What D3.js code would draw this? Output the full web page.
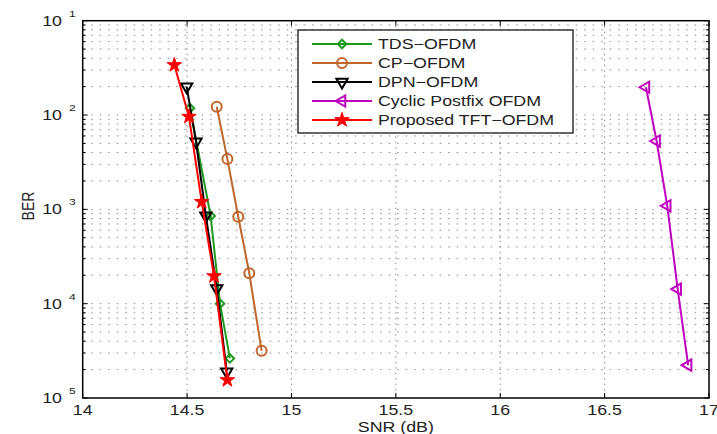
<!DOCTYPE html>
<html><head><meta charset="utf-8">
<script src="https://cdn.jsdelivr.net/npm/d3@7"></script>
<style>html,body{margin:0;padding:0;background:#fff;}svg{display:block;font-family:"Liberation Sans",Arial,sans-serif;}</style>
</head><body><svg id="c" width="717" height="434"></svg>
<script>
// ---- data ----
const seriesNames = ["TDS\u2212OFDM","CP\u2212OFDM","DPN\u2212OFDM","Cyclic Postfix OFDM","Proposed TFT\u2212OFDM"];
const tdsSNR = [14.514,14.613,14.658,14.705];
const tdsBER = [0.0118,8.5e-4,1.0e-4,2.63e-5];
const cpSNR = [14.642,14.693,14.745,14.798,14.857];
const cpBER = [0.01225,3.41e-3,8.35e-4,2.1e-4,3.16e-5];
const dpnSNR = [14.498,14.543,14.590,14.642,14.690];
const dpnBER = [0.020,5.2e-3,8.55e-4,1.45e-4,1.9e-5];
const cycSNR = [16.698,16.749,16.800,16.850,16.900];
const cycBER = [0.0197,5.3e-3,1.09e-3,1.43e-4,2.23e-5];
const tftSNR = [14.439,14.509,14.570,14.629,14.693];
const tftBER = [0.0339,0.0096,0.0012,1.96e-4,1.55e-5];
const xTicks = [14,14.5,15,15.5,16,16.5,17];
const xTickLabels = ["14","14.5","15","15.5","16","16.5","17"];
const yTicks = [1e-1,1e-2,1e-3,1e-4,1e-5];
const yTickSup = ["1","2","3","4","5"];
const xLabel = "SNR (dB)";
const yLabel = "BER";

const colors = ["#1f9a1f","#c0662a","#000000","#bf00bf","#ff0000"];
const markers = ["diamond","circle","tridown","trileft","star"];
const data = [
  {x:tdsSNR,y:tdsBER},{x:cpSNR,y:cpBER},{x:dpnSNR,y:dpnBER},{x:cycSNR,y:cycBER},{x:tftSNR,y:tftBER}
];

const L=82.7,R=709,T=20.7,B=398;
const SX=1.27; // horizontal stretch of the reference text
const x = d3.scaleLinear().domain([14,17]).range([L,R]);
const y = d3.scaleLog().domain([1e-1,1e-5]).range([T,B]);
const svg = d3.select("#c");

function addText(parent, tx, ty, str, size, anchor, extra){
  return parent.append("text")
    .attr("transform",`translate(${tx},${ty}) ${extra||""} scale(${SX},1)`)
    .attr("text-anchor",anchor).attr("font-size",size).attr("fill","#222").text(str);
}

// grid
const g = svg.append("g");
const minorY = [];
for (let e=-5;e<-1;e++) for (let k=1;k<10;k++) minorY.push(k*Math.pow(10,e));
minorY.push(1e-1);
g.selectAll("line.hg").data(minorY.filter(v=>v>1e-5 && v<1e-1)).enter().append("line")
  .attr("x1",L).attr("x2",R).attr("y1",d=>y(d)).attr("y2",d=>y(d))
  .attr("stroke","#8a8a8a").attr("stroke-width",1).attr("stroke-dasharray","1.5,7");
g.selectAll("line.vg").data(xTicks.slice(1,-1)).enter().append("line")
  .attr("y1",T).attr("y2",B).attr("x1",d=>x(d)).attr("x2",d=>x(d))
  .attr("stroke","#8a8a8a").attr("stroke-width",1).attr("stroke-dasharray","1.5,4");

// ticks
const tk = svg.append("g").attr("stroke","#000").attr("stroke-width",1);
xTicks.forEach(v=>{
  tk.append("line").attr("x1",x(v)).attr("x2",x(v)).attr("y1",B).attr("y2",B-5);
  tk.append("line").attr("x1",x(v)).attr("x2",x(v)).attr("y1",T).attr("y2",T+5);
});
minorY.forEach(v=>{
  const len = yTicks.includes(v)?5:3;
  tk.append("line").attr("x1",L).attr("x2",L+len).attr("y1",y(v)).attr("y2",y(v));
  tk.append("line").attr("x1",R).attr("x2",R-len).attr("y1",y(v)).attr("y2",y(v));
});
svg.append("rect").attr("x",L).attr("y",T).attr("width",R-L).attr("height",B-T)
  .attr("fill","none").attr("stroke","#000").attr("stroke-width",1.5);

// tick labels
xTicks.forEach((v,i)=>addText(svg, x(v), B+17, xTickLabels[i], 14, "middle"));
yTicks.forEach((v,i)=>{
  addText(svg, 62, y(v)+5, "10", 14, "end");
  addText(svg, 69, y(v)-4, yTickSup[i], 9.5, "start");
});
addText(svg, (L+R)/2, 432, xLabel, 14, "middle");
svg.append("text").attr("transform","translate(34,206) rotate(-90) scale(1,1.2)").attr("text-anchor","middle")
  .attr("font-size",14).attr("fill","#222").text(yLabel);

function drawMarker(sel, type, cx, cy, color){
  if (type==="circle"){
    sel.append("circle").attr("cx",cx).attr("cy",cy).attr("r",5)
      .attr("fill","none").attr("stroke",color).attr("stroke-width",2);
  } else if (type==="diamond"){
    sel.append("path").attr("d",d3.symbol(d3.symbolSquare,36)())
      .attr("transform",`translate(${cx},${cy}) rotate(45)`)
      .attr("fill","none").attr("stroke",color).attr("stroke-width",2);
  } else if (type==="tridown"){
    sel.append("path").attr("d",d3.symbol(d3.symbolTriangle,55)())
      .attr("transform",`translate(${cx},${cy}) rotate(180)`)
      .attr("fill","none").attr("stroke",color).attr("stroke-width",2);
  } else if (type==="trileft"){
    sel.append("path").attr("d",d3.symbol(d3.symbolTriangle,55)())
      .attr("transform",`translate(${cx},${cy}) rotate(-90)`)
      .attr("fill","none").attr("stroke",color).attr("stroke-width",2);
  } else if (type==="star"){
    sel.append("path").attr("d",d3.symbol(d3.symbolStar,65)())
      .attr("transform",`translate(${cx},${cy})`)
      .attr("fill",color).attr("stroke",color).attr("stroke-width",1);
  }
}

const line = d3.line().x(d=>x(d[0])).y(d=>y(d[1]));
data.forEach((s,i)=>{
  const pts = s.x.map((v,j)=>[v,s.y[j]]);
  const gg = svg.append("g");
  gg.append("path").datum(pts).attr("d",line).attr("fill","none")
    .attr("stroke",colors[i]).attr("stroke-width",2);
  pts.forEach(p=>drawMarker(gg,markers[i],x(p[0]),y(p[1]),colors[i]));
});

// legend
const lg = svg.append("g");
lg.append("rect").attr("x",298).attr("y",30).attr("width",275).attr("height",103)
  .attr("fill","#fff").attr("stroke","#000").attr("stroke-width",1.2);
seriesNames.forEach((n,i)=>{
  const yy = 44 + i*19;
  lg.append("line").attr("x1",312).attr("x2",372).attr("y1",yy).attr("y2",yy)
    .attr("stroke",colors[i]).attr("stroke-width",2);
  drawMarker(lg,markers[i],342,yy,colors[i]);
  addText(lg, 378, yy+5, n, 14, "start");
});
</script></body></html>
